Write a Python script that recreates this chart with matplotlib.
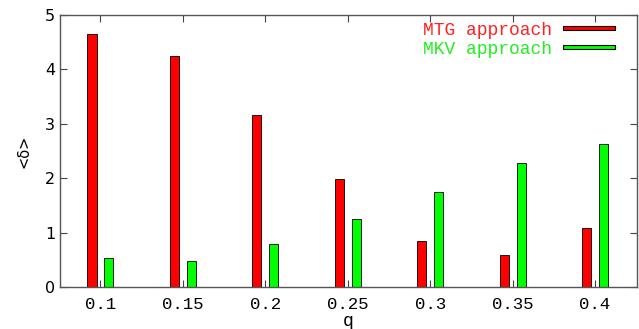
import numpy as np
import matplotlib
matplotlib.use('Agg')
import matplotlib.pyplot as plt
from matplotlib.patches import Patch

### chart data
q_labels = ['0.1', '0.15', '0.2', '0.25', '0.3', '0.35', '0.4']
mtg = [4.66, 4.24, 3.16, 1.98, 0.84, 0.59, 1.09]
mkv = [0.53, 0.47, 0.785, 1.24, 1.75, 2.28, 2.63]

fig = plt.figure(figsize=(6.39, 3.29), dpi=100)
ax = fig.add_axes([0.094, 0.128, 0.903, 0.826])

x = np.arange(len(q_labels))
w = 0.11
ax.bar(x - 0.103, mtg, w, color='#ff0000', edgecolor='black', linewidth=0.6)
ax.bar(x + 0.103, mkv, w, color='#00ff00', edgecolor='black', linewidth=0.6)

ax.set_xlim(-0.49, 6.51)
ax.set_ylim(0, 5)
ax.set_xticks(x)
ax.set_xticklabels(q_labels, family='Liberation Mono', fontsize=12.5)
ax.set_yticks(range(6))
ax.tick_params(axis='y', labelsize=11.5)
ax.tick_params(direction='in', top=True, right=True, length=5, width=0.8, color='#444444')
ax.tick_params(axis='x', pad=7)
for s in ax.spines.values():
    s.set_color('#555555')
    s.set_linewidth(1.0)

ax.set_ylabel('<δ>', fontsize=10.5, labelpad=10)
ax.set_xlabel('q', family='Liberation Mono', fontsize=13, labelpad=1)

# thin legend bars like the original (negative handleheight shrinks the box)
handles = [Patch(facecolor='#ff0000', edgecolor='black', linewidth=0.8),
           Patch(facecolor='#00ff00', edgecolor='black', linewidth=0.8)]
ax.legend(handles, ['MTG approach', 'MKV approach'], loc='upper right',
          bbox_to_anchor=(0.99, 1.035), frameon=False, markerfirst=False,
          handlelength=2.9, handleheight=-0.06, labelspacing=0.1, handletextpad=0.6,
          labelcolor=['#ff2222', '#22ee22'],
          prop={'family': 'Liberation Mono', 'size': 13})

fig.savefig('out.png', dpi=100)
